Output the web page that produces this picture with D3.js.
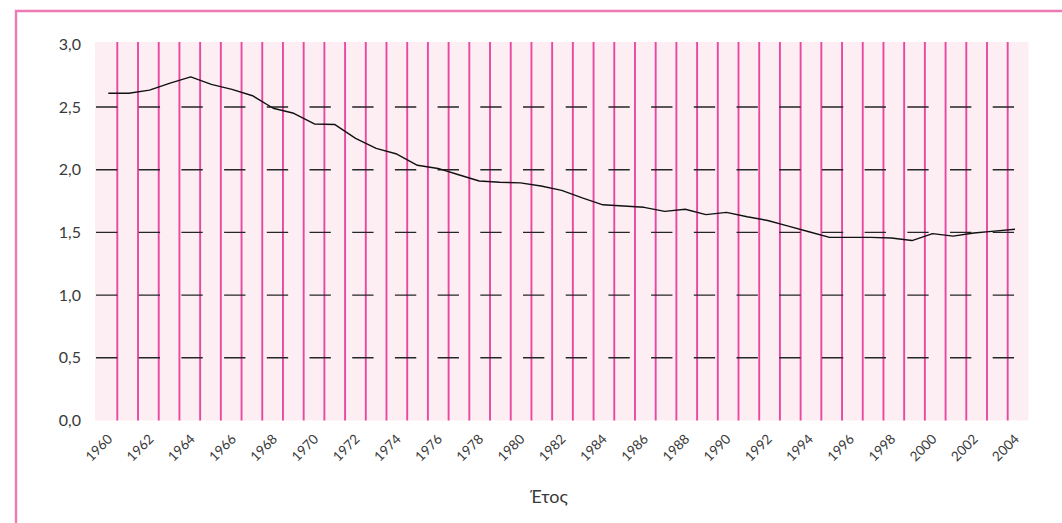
<!DOCTYPE html>
<html>
<head>
<meta charset="utf-8">
<script src="https://cdn.jsdelivr.net/npm/d3@7"></script>
<style>
  body { margin: 0; background: #fff; }
  #chart { width: 1062px; height: 523px; }
  text { font-family: Lato, "Open Sans", sans-serif; font-weight: 400; fill: #3a3a3a; }
</style>
</head>
<body>
<div id="chart"></div>
<script>
// data

const years = [1960, 1961, 1962, 1963, 1964, 1965, 1966, 1967, 1968, 1969,
  1970, 1971, 1972, 1973, 1974, 1975, 1976, 1977, 1978, 1979,
  1980, 1981, 1982, 1983, 1984, 1985, 1986, 1987, 1988, 1989,
  1990, 1991, 1992, 1993, 1994, 1995, 1996, 1997, 1998, 1999,
  2000, 2001, 2002, 2003, 2004];

const fertility = [2.61, 2.61, 2.635, 2.69, 2.74, 2.68, 2.64, 2.59, 2.49, 2.45,
  2.365, 2.36, 2.25, 2.17, 2.125, 2.035, 2.01, 1.96, 1.91, 1.90,
  1.895, 1.87, 1.835, 1.775, 1.72, 1.71, 1.70, 1.668, 1.685, 1.642,
  1.66, 1.625, 1.595, 1.55, 1.505, 1.46, 1.46, 1.46, 1.455, 1.435,
  1.49, 1.47, 1.495, 1.51, 1.525];

const yTicks = [0, 0.5, 1.0, 1.5, 2.0, 2.5, 3.0];
const xLabels = [1960, 1962, 1964, 1966, 1968, 1970, 1972, 1974, 1976, 1978,
  1980, 1982, 1984, 1986, 1988, 1990, 1992, 1994, 1996, 1998, 2000, 2002, 2004];
const xTitle = "Έτος";

const width = 1062;
const height = 523;

const svg = d3.select("#chart")
  .append("svg")
  .attr("width", width)
  .attr("height", height);

// frame

svg.append("path")
  .attr("d", "M16," + height + "V11H" + width)
  .attr("fill", "none")
  .attr("stroke", "#ee7ab5")
  .attr("stroke-width", 2.4);

// scales

const plotTop = 42, plotBottom = 420.5;
const xBand = d3.scaleBand().domain(years).range([96.6, 1028.4]);
const xLine = d3.scaleLinear().domain([1960, 2004]).range([108.3, 1015]);
const y = d3.scaleLinear().domain([0, 3]).range([plotBottom, 44.3]);

// plot background

svg.append("rect")
  .attr("x", 95)
  .attr("y", plotTop)
  .attr("width", 1028.4 - 95)
  .attr("height", plotBottom - plotTop)
  .attr("fill", "#fdeef4");

// vertical pink lines between categories

svg.append("g")
  .selectAll("line")
  .data(years.slice(1))
  .join("line")
  .attr("x1", d => xBand(d))
  .attr("x2", d => xBand(d))
  .attr("y1", plotTop)
  .attr("y2", plotBottom)
  .attr("stroke", "#e8489f")
  .attr("stroke-width", 1.9);

// dashed horizontal gridlines

svg.append("g")
  .selectAll("line")
  .data(yTicks.filter(d => d > 0 && d < 3))
  .join("line")
  .attr("x1", 96)
  .attr("x2", 1028.4)
  .attr("y1", d => y(d))
  .attr("y2", d => y(d))
  .attr("stroke", "#262626")
  .attr("stroke-width", 1.4)
  .attr("stroke-dasharray", "21.35 21.35");

// y axis

const yAxis = svg.append("g")
  .attr("transform", "translate(95,0)")
  .call(d3.axisLeft(y)
    .tickValues(yTicks)
    .tickSize(0)
    .tickPadding(14)
    .tickFormat(d => d.toFixed(1).replace(".", ",")));
yAxis.select(".domain").remove();
yAxis.attr("font-family", null).attr("font-size", null);
yAxis.selectAll("text")
  .style("font-size", "16px");

// x labels

svg.append("g")
  .selectAll("text")
  .data(xLabels)
  .join("text")
  .attr("transform", d => "translate(" + (xLine(d) + 5) + ",440) rotate(-45)")
  .attr("text-anchor", "end")
  .style("font-size", "13.5px")
  .text(d => d);

svg.append("text")
  .attr("x", 549)
  .attr("y", 503)
  .attr("text-anchor", "middle")
  .style("font-size", "18px")
  .text(xTitle);

// line

const line = d3.line()
  .x((d, i) => xLine(years[i]))
  .y(d => y(d));

svg.append("path")
  .datum(fertility)
  .attr("d", line)
  .attr("fill", "none")
  .attr("stroke", "#111")
  .attr("stroke-width", 1.4)
  .attr("stroke-linejoin", "round");
</script>
</body>
</html>
